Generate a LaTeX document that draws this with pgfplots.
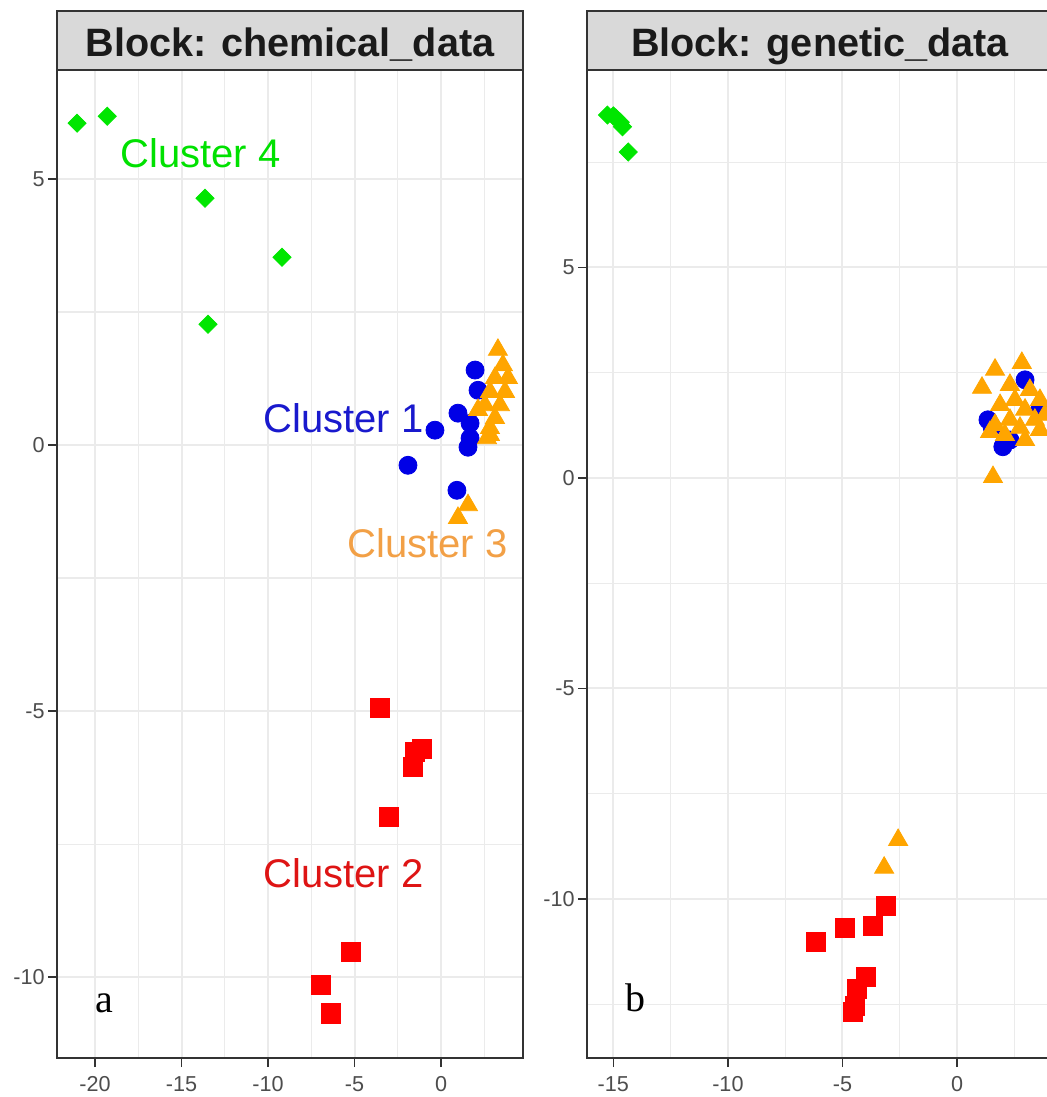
\documentclass[border=0pt]{standalone}
\usepackage{pgfplots}
\pgfplotsset{compat=1.18}
\usepackage{fontspec}
\setmainfont{Liberation Sans}
\newfontfamily\serif{Liberation Serif}

\definecolor{cblue}{RGB}{0,0,230}
\definecolor{cred}{RGB}{255,0,0}
\definecolor{corange}{RGB}{255,165,0}
\definecolor{cgreen}{RGB}{0,230,0}
\definecolor{lblue}{RGB}{25,25,205}
\definecolor{lred}{RGB}{222,20,20}
\definecolor{lorange}{RGB}{242,160,70}
\definecolor{lgreen}{RGB}{0,225,0}
\definecolor{grey20}{RGB}{51,51,51}
\definecolor{grey30}{RGB}{77,77,77}
\definecolor{grey85}{RGB}{217,217,217}
\definecolor{grey92}{RGB}{235,235,235}

\pgfplotsset{
  panel/.style={
    scale only axis, width=233pt, height=494pt,
    clip=false,
    axis line style={grey20, line width=0.75pt},
    tick align=outside, major tick length=4.5pt, minor tick length=0pt,
    tick style={grey20, line width=0.7pt},
    xtick pos=bottom, ytick pos=left,
    grid=both,
    major grid style={grey92, line width=1pt},
    minor grid style={grey92, line width=0.6pt},
    ticklabel style={font=\fontsize{10.8}{12}\selectfont, text=grey30, inner sep=1.5pt},
    xticklabel style={yshift=-3pt},
  },
  c1/.style={only marks, mark=*, mark size=4.5pt, color=cblue},
  c2/.style={only marks, mark=square*, mark size=4.8pt, color=cred},
  c3/.style={only marks, mark=triangle*, mark size=5.5pt, color=corange},
  c4/.style={only marks, mark=square*, mark size=3.2pt, color=cgreen, mark options={rotate=45}},
}
\tikzset{lab/.style={anchor=base west, inner sep=0pt, font=\fontsize{20}{24}\selectfont}}

\newcommand{\strip}[1]{%
  \draw[fill=grey85, draw=grey20, line width=0.75pt] (rel axis cs:0,1) rectangle ([yshift=29.5pt]rel axis cs:1,1);
  \node[anchor=base, inner sep=0pt, text={rgb,255:red,26;green,26;blue,26}, font=\fontsize{19.8}{24}\selectfont\bfseries] at ([yshift=6.5pt]rel axis cs:0.5,1) {#1};
}

\begin{document}
\begin{tikzpicture}

% left panel: chemical data
\begin{axis}[panel, at={(28.5pt,19.5pt)}, anchor=south west,
  xmin=-22.2, xmax=4.74, ymin=-11.52, ymax=7.05,
  xtick={-20,-15,-10,-5,0}, xticklabels={-20,-15,-10,-5,0},
  minor xtick={-17.5,-12.5,-7.5,-2.5,2.5},
  ytick={-10,-5,0,5}, yticklabels={-10,-5,0,5},
  minor ytick={-7.5,-2.5,2.5}]
\addplot[c1] coordinates {
  (1.97,1.41) (2.14,1.03) (0.98,0.60) (1.68,0.41) (-0.35,0.28)
  (1.56,-0.04) (1.68,0.13) (-1.91,-0.38) (0.92,-0.85)
};
\addplot[c2] coordinates {
  (-3.53,-4.94) (-1.10,-5.71) (-1.50,-5.77) (-1.62,-6.05) (-3.0,-6.99)
  (-5.2,-9.53) (-6.94,-10.15) (-6.36,-10.68)
};
\addplot[c3] coordinates {
  (3.29,1.79) (3.58,1.50) (3.87,1.26) (3.12,1.26) (3.70,1.00)
  (2.83,1.00) (3.41,0.75) (2.54,0.75) (3.12,0.51) (2.14,0.66)
  (2.83,0.32) (2.83,0.19) (2.66,0.13) (1.56,-1.13) (0.98,-1.37)
};
\addplot[c4] coordinates {
  (-21.04,6.05) (-19.3,6.18) (-13.64,4.64) (-9.19,3.53) (-13.47,2.27)
};
\node[lab, text=lgreen] at (axis cs:-18.55,5.21) {Cluster 4};
\node[lab, text=lblue] at (axis cs:-10.29,0.23) {Cluster 1};
\node[lab, text=lorange] at (axis cs:-5.43,-2.11) {Cluster 3};
\node[lab, text=lred] at (axis cs:-10.29,-8.31) {Cluster 2};
\node[lab, text=black, font=\fontsize{20}{24}\selectfont\serif] at (axis cs:-20.0,-10.66) {a};
\strip{Block: chemical\_data}
\end{axis}

% right panel: genetic data
\begin{axis}[panel, at={(293.5pt,19.5pt)}, anchor=south west,
  xmin=-16.15, xmax=4.19, ymin=-13.78, ymax=9.69,
  xtick={-15,-10,-5,0}, xticklabels={-15,-10,-5,0},
  minor xtick={-12.5,-7.5,-2.5,2.5},
  ytick={-10,-5,0,5}, yticklabels={-10,-5,0,5},
  minor ytick={-12.5,-7.5,-2.5,2.5,7.5}]
\addplot[c1] coordinates {
  (2.97,2.33) (3.62,1.66) (1.53,1.21) (2.0,0.74) (1.35,1.38) (2.31,0.90)
};
\addplot[c2] coordinates {
  (-3.1,-10.17) (-3.66,-10.64) (-4.88,-10.69) (-6.15,-11.02)
  (-3.97,-11.85) (-4.36,-12.14) (-4.54,-12.68) (-4.45,-12.55)
};
\addplot[c3] coordinates {
  (1.66,2.57) (2.83,2.73) (1.09,2.14) (1.57,0.02) (2.31,2.21)
  (3.18,2.09) (3.62,1.85) (2.53,1.85) (1.88,1.73) (2.97,1.62)
  (2.31,1.38) (3.40,1.38) (1.66,1.26) (2.75,1.19) (3.62,1.14)
  (2.09,1.02) (2.97,0.90) (1.44,1.09) (3.84,1.50)
  (-2.57,-8.6) (-3.18,-9.26)
};
\addplot[c4] coordinates {
  (-15.26,8.62) (-15.0,8.6) (-14.9,8.55) (-14.7,8.45) (-14.6,8.34) (-14.35,7.74)
};
\node[lab, text=black, font=\fontsize{20}{24}\selectfont\serif] at (axis cs:-14.48,-12.68) {b};
\strip{Block: genetic\_data}
\end{axis}

\pgfresetboundingbox
\useasboundingbox (0,0) rectangle (523pt,548.5pt);
\end{tikzpicture}
\end{document}
